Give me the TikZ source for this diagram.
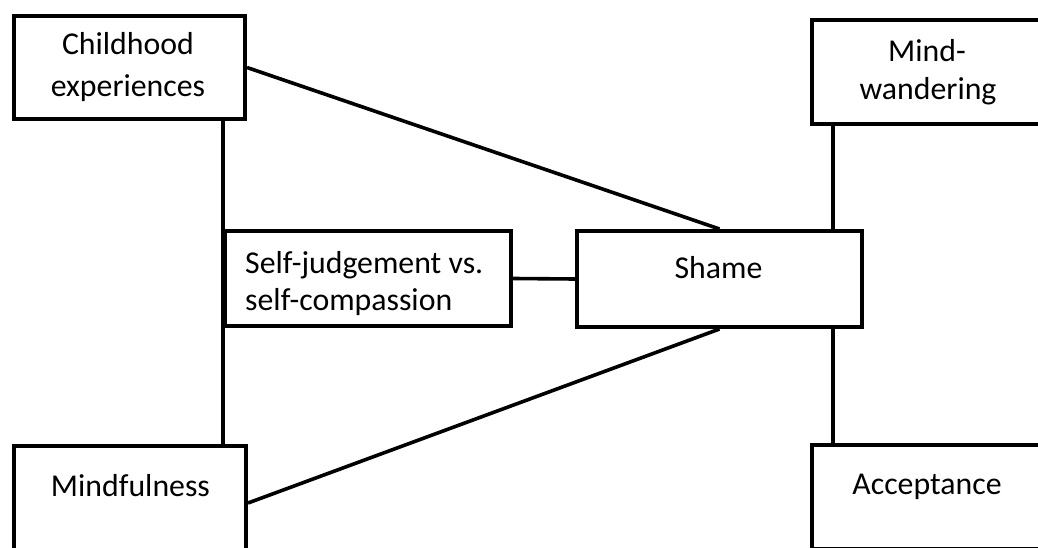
\documentclass[tikz,border=0pt]{standalone}
\usepackage{fontspec}
\setmainfont{Carlito}
\begin{document}
\begin{tikzpicture}[x=1pt,y=-1pt,
  boxnode/.style={draw=black, line width=4pt, fill=white, inner sep=0pt},
  txt/.style={inner sep=0pt, anchor=base, font=\fontsize{31.8}{42}\selectfont},
  txtl/.style={txt, anchor=base west},
  conn/.style={draw=black, line width=3.6pt}]
\useasboundingbox (0,0) rectangle (1038,548);
\begin{scope}
\clip (0,0) rectangle (1038,548);
% boxes
\node[boxnode, minimum width=231pt, minimum height=103pt] (CE) at (129.5,67.5) {};
\node[boxnode, minimum width=270pt, minimum height=104pt] (MW) at (947,72) {};
\node[boxnode, minimum width=286pt, minimum height=95pt] (SJ) at (368,278.5) {};
\node[boxnode, minimum width=285pt, minimum height=96pt] (SH) at (719.5,279) {};
\node[boxnode, minimum width=232pt, minimum height=112pt] (MF) at (130,502) {};
\node[boxnode, minimum width=270pt, minimum height=104pt] (AC) at (947,497) {};
% connectors
\draw[conn] (CE.east) -- (SH.north);
\draw[conn] (SH.south) -- ([yshift=-1pt]MF.east);
\draw[conn] (SJ.west |- CE.south) -- (SJ.west |- MF.north);
\draw[conn] (SJ.east) -- (SH.west);
\draw[conn] ([xshift=-114pt]MW.south) -- ([xshift=-114pt]MW.south |- SH.north);
\draw[conn] ([xshift=-114pt]MW.south |- SH.south) -- ([xshift=-114pt]MW.south |- AC.north);
% texts
\node[txt] (t1) at (128,55) {Childhood};
\node[txt] (t2) at (128,97) {experiences};
\node[txt] (t3) at (927,62) {Mind-};
\node[txt] (t4) at (928,100) {wandering};
\node[txtl] (t5) at (245,273) {Self-judgement vs.};
\node[txtl] (t6) at (245,310) {self-compassion};
\node[txt] (t7) at (718.5,278) {Shame};
\node[txt] (t8) at (130.5,496) {Mindfulness};
\node[txt] (t9) at (927,494) {Acceptance};
\end{scope}
\end{tikzpicture}
\end{document}
